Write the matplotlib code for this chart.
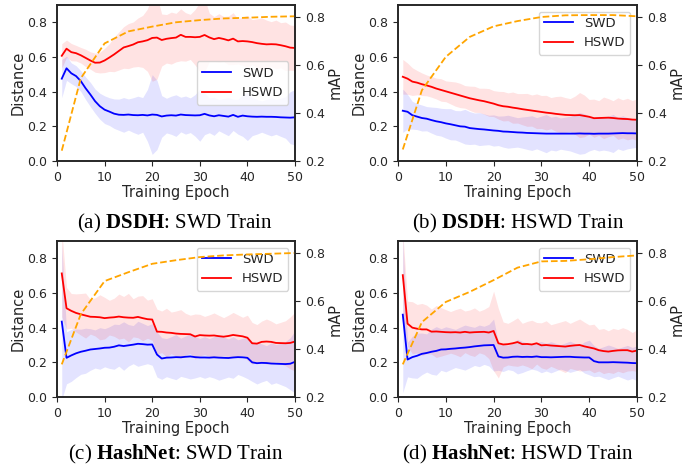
import matplotlib
matplotlib.use("Agg")
import matplotlib.pyplot as plt
import numpy as np

plt.rcParams.update({
    "font.family": ["DejaVu Sans"],
    "text.color": ".15",
    "axes.labelcolor": ".15",
    "axes.edgecolor": ".15",
    "xtick.color": ".15",
    "ytick.color": ".15",
    "axes.linewidth": 1.2,
    "mathtext.fontset": "custom",
    "mathtext.rm": "Liberation Serif",
    "mathtext.bf": "Liberation Serif:bold",
})

epochs = list(range(1, 51))
map_epochs = [1, 5, 10, 15, 20, 25, 30, 35, 40, 45, 50]

# ---- (a) DSDH: SWD Train ----
a_swd = [0.475, 0.535, 0.506, 0.49, 0.461, 0.42, 0.384, 0.345, 0.316, 0.296,
         0.285, 0.273, 0.267, 0.266, 0.268, 0.265, 0.264, 0.266, 0.263, 0.268,
         0.266, 0.257, 0.262, 0.264, 0.262, 0.268, 0.265, 0.264, 0.263, 0.264,
         0.272, 0.263, 0.258, 0.264, 0.26, 0.256, 0.266, 0.255, 0.262, 0.258,
         0.256, 0.255, 0.256, 0.255, 0.255, 0.254, 0.252, 0.251, 0.25, 0.252]
a_swd_std = [0.11, 0.07, 0.06, 0.06, 0.06, 0.065, 0.07, 0.07, 0.075, 0.08,
             0.08, 0.085, 0.09, 0.1, 0.09, 0.1, 0.11, 0.1, 0.15, 0.23,
             0.2, 0.12, 0.1, 0.11, 0.12, 0.1, 0.11, 0.1, 0.12, 0.15,
             0.12, 0.1, 0.11, 0.09, 0.1, 0.11, 0.09, 0.1, 0.12, 0.14,
             0.11, 0.1, 0.09, 0.1, 0.11, 0.1, 0.11, 0.12, 0.15, 0.16]
a_hswd = [0.607, 0.648, 0.628, 0.622, 0.61, 0.595, 0.58, 0.567, 0.568, 0.58,
          0.597, 0.615, 0.635, 0.655, 0.663, 0.672, 0.685, 0.69, 0.697, 0.71,
          0.712, 0.698, 0.705, 0.709, 0.712, 0.728, 0.716, 0.716, 0.714, 0.716,
          0.727, 0.713, 0.703, 0.71, 0.704, 0.696, 0.706, 0.69, 0.692, 0.69,
          0.686, 0.68, 0.676, 0.673, 0.674, 0.673, 0.668, 0.662, 0.654, 0.652]
a_hswd_std = [0.07, 0.05, 0.05, 0.045, 0.045, 0.05, 0.05, 0.055, 0.06, 0.07,
              0.08, 0.1, 0.11, 0.12, 0.13, 0.13, 0.14, 0.15, 0.18, 0.25,
              0.24, 0.15, 0.14, 0.15, 0.14, 0.15, 0.14, 0.13, 0.16, 0.2,
              0.21, 0.14, 0.13, 0.14, 0.13, 0.14, 0.15, 0.13, 0.14, 0.15,
              0.13, 0.14, 0.15, 0.14, 0.13, 0.14, 0.13, 0.14, 0.13, 0.13]
a_map = [0.243, 0.545, 0.69, 0.74, 0.76, 0.778, 0.787, 0.794, 0.797, 0.801, 0.803]

# ---- (b) DSDH: HSWD Train ----
b_swd = [0.29, 0.284, 0.264, 0.256, 0.248, 0.244, 0.236, 0.229, 0.224, 0.217,
         0.212, 0.206, 0.2, 0.198, 0.19, 0.187, 0.184, 0.182, 0.179, 0.176,
         0.174, 0.17, 0.169, 0.167, 0.165, 0.164, 0.162, 0.161, 0.16, 0.159,
         0.158, 0.158, 0.158, 0.158, 0.158, 0.158, 0.158, 0.159, 0.158, 0.158,
         0.157, 0.158, 0.158, 0.158, 0.159, 0.16, 0.161, 0.16, 0.16, 0.159]
b_swd_std = [0.125, 0.1, 0.08, 0.075, 0.075, 0.07, 0.075, 0.08, 0.08, 0.085,
             0.09, 0.085, 0.09, 0.1, 0.095, 0.09, 0.095, 0.09, 0.085, 0.09,
             0.085, 0.09, 0.095, 0.09, 0.085, 0.09, 0.095, 0.1, 0.09, 0.1,
             0.11, 0.095, 0.1, 0.09, 0.095, 0.1, 0.11, 0.12, 0.115, 0.1,
             0.09, 0.1, 0.095, 0.1, 0.11, 0.09, 0.1, 0.09, 0.085, 0.08]
b_hswd = [0.486, 0.475, 0.458, 0.452, 0.443, 0.436, 0.428, 0.418, 0.41, 0.402,
          0.394, 0.386, 0.378, 0.37, 0.362, 0.356, 0.35, 0.345, 0.338, 0.331,
          0.322, 0.316, 0.313, 0.308, 0.304, 0.299, 0.295, 0.291, 0.287, 0.283,
          0.279, 0.276, 0.272, 0.269, 0.266, 0.265, 0.264, 0.265, 0.26, 0.255,
          0.247, 0.248, 0.249, 0.25, 0.248, 0.245, 0.243, 0.242, 0.239, 0.238]
b_hswd_std = [0.1, 0.09, 0.08, 0.07, 0.065, 0.06, 0.06, 0.06, 0.065, 0.06,
              0.065, 0.07, 0.07, 0.065, 0.07, 0.075, 0.07, 0.075, 0.08, 0.075,
              0.08, 0.085, 0.08, 0.09, 0.085, 0.09, 0.095, 0.09, 0.1, 0.095,
              0.1, 0.09, 0.1, 0.105, 0.1, 0.095, 0.11, 0.13, 0.12, 0.1,
              0.11, 0.1, 0.12, 0.11, 0.1, 0.12, 0.11, 0.12, 0.11, 0.12]
b_map = [0.248, 0.495, 0.634, 0.717, 0.761, 0.783, 0.8, 0.807, 0.808, 0.808, 0.803]

# ---- (c) HashNet: SWD Train ----
c_swd = [0.435, 0.226, 0.24, 0.252, 0.261, 0.267, 0.274, 0.277, 0.28, 0.284,
         0.285, 0.29, 0.298, 0.294, 0.298, 0.302, 0.307, 0.305, 0.302, 0.303,
         0.245, 0.222, 0.227, 0.228, 0.23, 0.229, 0.232, 0.234, 0.23, 0.228,
         0.228, 0.227, 0.229, 0.227, 0.226, 0.225, 0.228, 0.23, 0.229, 0.226,
         0.2, 0.195, 0.197, 0.196, 0.193, 0.192, 0.191, 0.19, 0.192, 0.203]
c_swd_std = [0.45, 0.15, 0.15, 0.14, 0.13, 0.13, 0.12, 0.11, 0.12, 0.11,
             0.12, 0.13, 0.12, 0.14, 0.12, 0.11, 0.13, 0.12, 0.11, 0.12,
             0.13, 0.12, 0.11, 0.12, 0.13, 0.11, 0.12, 0.13, 0.12, 0.11,
             0.12, 0.11, 0.12, 0.13, 0.12, 0.11, 0.12, 0.1, 0.11, 0.12,
             0.11, 0.12, 0.11, 0.1, 0.12, 0.11, 0.12, 0.13, 0.15, 0.18]
c_hswd = [0.713, 0.512, 0.497, 0.485, 0.477, 0.47, 0.463, 0.462, 0.46, 0.455,
          0.458, 0.46, 0.464, 0.46, 0.458, 0.457, 0.462, 0.455, 0.449, 0.447,
          0.377, 0.376, 0.372, 0.37, 0.366, 0.364, 0.363, 0.362, 0.349, 0.357,
          0.355, 0.354, 0.355, 0.351, 0.348, 0.352, 0.358, 0.354, 0.35, 0.342,
          0.31, 0.308, 0.318, 0.32, 0.318, 0.312, 0.311, 0.31, 0.312, 0.32]
c_hswd_std = [0.25, 0.12, 0.1, 0.11, 0.12, 0.13, 0.1, 0.11, 0.13, 0.12,
              0.1, 0.11, 0.13, 0.12, 0.14, 0.11, 0.12, 0.13, 0.11, 0.12,
              0.13, 0.12, 0.14, 0.12, 0.13, 0.14, 0.12, 0.11, 0.13, 0.12,
              0.11, 0.12, 0.13, 0.12, 0.11, 0.12, 0.13, 0.12, 0.11, 0.13,
              0.12, 0.11, 0.12, 0.13, 0.12, 0.11, 0.12, 0.13, 0.15, 0.17]
c_map = [0.336, 0.545, 0.683, 0.72, 0.755, 0.77, 0.783, 0.79, 0.794, 0.797, 0.8]

# ---- (d) HashNet: HSWD Train ----
d_swd = [0.475, 0.216, 0.23, 0.238, 0.249, 0.254, 0.261, 0.266, 0.274, 0.275,
         0.278, 0.28, 0.283, 0.285, 0.288, 0.292, 0.295, 0.298, 0.299, 0.3,
         0.234, 0.227, 0.228, 0.232, 0.233, 0.231, 0.232, 0.231, 0.234, 0.23,
         0.23, 0.229, 0.23, 0.231, 0.232, 0.232, 0.23, 0.229, 0.228, 0.228,
         0.207, 0.2, 0.2, 0.2, 0.201, 0.2, 0.199, 0.198, 0.196, 0.195]
d_swd_std = [0.45, 0.1, 0.12, 0.13, 0.12, 0.11, 0.13, 0.14, 0.12, 0.13,
             0.12, 0.11, 0.12, 0.13, 0.12, 0.11, 0.12, 0.11, 0.12, 0.15,
             0.08, 0.08, 0.07, 0.08, 0.1, 0.09, 0.08, 0.07, 0.08, 0.09,
             0.08, 0.09, 0.08, 0.07, 0.08, 0.09, 0.08, 0.07, 0.09, 0.1,
             0.09, 0.08, 0.09, 0.1, 0.09, 0.08, 0.09, 0.1, 0.09, 0.1]
d_hswd = [0.703, 0.423, 0.4, 0.394, 0.39, 0.39, 0.377, 0.378, 0.376, 0.374,
          0.373, 0.374, 0.372, 0.376, 0.372, 0.374, 0.375, 0.376, 0.372, 0.381,
          0.31, 0.303, 0.305, 0.31, 0.317, 0.305, 0.306, 0.303, 0.31, 0.298,
          0.3, 0.297, 0.295, 0.293, 0.291, 0.295, 0.298, 0.3, 0.292, 0.286,
          0.28, 0.27, 0.265, 0.262, 0.266, 0.269, 0.27, 0.27, 0.262, 0.268]
d_hswd_std = [0.25, 0.13, 0.15, 0.14, 0.15, 0.14, 0.13, 0.15, 0.14, 0.13,
              0.12, 0.13, 0.14, 0.12, 0.13, 0.14, 0.12, 0.13, 0.15, 0.23,
              0.2, 0.13, 0.12, 0.13, 0.14, 0.12, 0.13, 0.14, 0.12, 0.13,
              0.14, 0.12, 0.13, 0.14, 0.15, 0.13, 0.14, 0.15, 0.14, 0.13,
              0.14, 0.12, 0.13, 0.12, 0.13, 0.12, 0.13, 0.12, 0.11, 0.12]
d_map = [0.336, 0.512, 0.596, 0.638, 0.687, 0.739, 0.765, 0.767, 0.774, 0.783, 0.79]

panels = [
    (a_swd, a_swd_std, a_hswd, a_hswd_std, a_map, r"(a) $\mathbf{DSDH}$: SWD Train", "center right"),
    (b_swd, b_swd_std, b_hswd, b_hswd_std, b_map, r"(b) $\mathbf{DSDH}$: HSWD Train", "upper right"),
    (c_swd, c_swd_std, c_hswd, c_hswd_std, c_map, r"(c) $\mathbf{HashNet}$: SWD Train", "upper right"),
    (d_swd, d_swd_std, d_hswd, d_hswd_std, d_map, r"(d) $\mathbf{HashNet}$: HSWD Train", "upper right"),
]

W, H = 685, 469
fig = plt.figure(figsize=(W / 100, H / 100), dpi=100)

# axes boxes in pixels: left, top, right, bottom
boxes = [(57, 5, 295, 161), (398, 5, 637, 161),
         (57, 241, 295, 397), (398, 241, 637, 397)]
caption_pos = [(175, 223), (518, 223), (176, 454), (518, 454)]

x = np.array(epochs)
for (swd, swd_s, hswd, hswd_s, mp, cap, lloc), (l, t, r, b), (cx, cy) in zip(panels, boxes, caption_pos):
    ax = fig.add_axes([l / W, 1 - b / H, (r - l) / W, (b - t) / H])
    swd = np.array(swd); swd_s = np.array(swd_s)
    hswd = np.array(hswd); hswd_s = np.array(hswd_s)
    ax.fill_between(x, swd - swd_s, swd + swd_s, color="blue", alpha=0.11, lw=0)
    ax.fill_between(x, hswd - hswd_s, hswd + hswd_s, color="red", alpha=0.11, lw=0)
    ax.plot(x, swd, color="blue", lw=1.3, label="SWD")
    ax.plot(x, hswd, color="red", lw=1.3, label="HSWD")
    ax.set_xlim(0, 50)
    ax.set_ylim(0, 0.9)
    ax.set_xticks([0, 10, 20, 30, 40, 50])
    ax.set_yticks([0.0, 0.2, 0.4, 0.6, 0.8])
    ax.tick_params(labelsize=9, length=3.5)
    ax.set_xlabel("Training Epoch", fontsize=10.5, labelpad=1)
    ax.set_ylabel("Distance", fontsize=10.5, labelpad=1)
    ax.legend(loc=lloc, fontsize=9.5, handlelength=2.2)
    ax2 = ax.twinx()
    ax2.plot(map_epochs, mp, color="orange", ls="--", lw=1.3)
    ax2.set_ylim(0.2, 0.85)
    ax2.set_yticks([0.2, 0.4, 0.6, 0.8])
    ax2.tick_params(labelsize=9, length=3.5)
    ax2.set_ylabel("mAP", fontsize=10.5, labelpad=2)
    fig.text(cx / W, 1 - cy / H, cap, ha="center", va="center",
             fontsize=15, family="Liberation Serif", color="black")

fig.savefig("out.png", dpi=100)
